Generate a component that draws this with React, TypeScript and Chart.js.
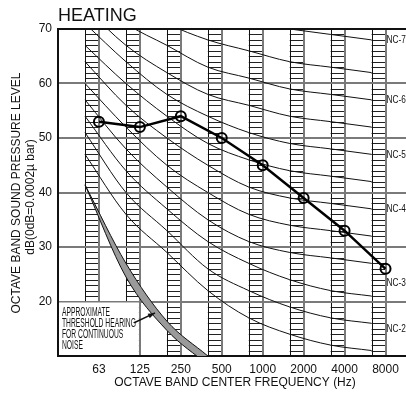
import React, { useEffect, useRef } from 'react';
import { Chart, registerables } from 'chart.js';

Chart.register(...registerables);

// ---------- data ----------
const FREQUENCIES = ['63', '125', '250', '500', '1000', '2000', '4000', '8000'];
const HEATING = [53, 52, 54, 50, 45, 39, 33, 26];

const NC_15 = [47, 36, 29, 22, 17, 14, 12, 11];
const NC_20 = [51, 40, 33, 26, 22, 19, 17, 16];
const NC_25 = [54, 44, 37, 31, 27, 24, 22, 21];
const NC_30 = [57, 48, 41, 35, 31, 29, 28, 27];
const NC_35 = [60, 52, 45, 40, 36, 34, 33, 32];
const NC_40 = [64, 56, 50, 45, 41, 39, 38, 37];
const NC_45 = [67, 60, 54, 49, 46, 44, 43, 42];
const NC_50 = [71, 64, 58, 54, 51, 49, 48, 47];
const NC_55 = [74, 67, 62, 58, 56, 54, 53, 52];
const NC_60 = [77, 71, 67, 63, 61, 59, 58, 57];
const NC_65 = [80, 75, 71, 68, 66, 64, 63, 62];
const NC_70 = [83, 79, 75, 72, 71, 70, 69, 68];
const NC_CURVES = [NC_15, NC_20, NC_25, NC_30, NC_35, NC_40, NC_45, NC_50, NC_55, NC_60, NC_65, NC_70];

const NC_LABELS = ['NC-70', 'NC-60', 'NC-50', 'NC-40', 'NC-30', 'NC-20'];
const NC_LABEL_DB = [68, 57, 47, 37, 23.5, 15];

const THRESHOLD_UPPER = [41.4, 27, 16.4, 10];
const THRESHOLD_LOWER = [41.4, 24.5, 14.7, 8.4];

const Y_TICKS = [10, 20, 30, 40, 50, 60, 70];
const NOTE_LINES = ['APPROXIMATE', 'THRESHOLD HEARING', 'FOR CONTINUOUS', 'NOISE'];

const TITLE = 'HEATING';
const Y_TITLE_1 = 'OCTAVE BAND SOUND PRESSURE LEVEL';
const Y_TITLE_2 = 'dB(0dB=0.0002\u00b5 bar)';
const X_TITLE = 'OCTAVE BAND CENTER FREQUENCY (Hz)';

// ---------- styling ----------
const FONT = '"Liberation Sans", Arial, Helvetica, sans-serif';
const BAR_WIDTH = 0.34; // width of the hatched band strips, in category units
const CURVE_SHIFT = -0.34; // NC curves drawn at the left edge of each band strip

const decor = {
  id: 'decor',
  beforeDraw(chart: any) {
    const { ctx, chartArea: a, scales } = chart;
    const x = scales.x;
    const y = scales.y;
    ctx.save();
    ctx.fillStyle = '#fff';
    ctx.fillRect(0, 0, chart.width, chart.height);
    FREQUENCIES.forEach((_, i) => {
      const xr = x.getPixelForValue(i);
      const xl = x.getPixelForValue(i - BAR_WIDTH);
      ctx.strokeStyle = '#222';
      ctx.lineWidth = 1;
      for (let v = 11; v < 70; v++) {
        const py = Math.round(y.getPixelForValue(v)) + 0.5;
        ctx.beginPath();
        ctx.moveTo(xl, py);
        ctx.lineTo(xr, py);
        ctx.stroke();
      }
      const lx = Math.round(xl) + 0.5;
      ctx.strokeStyle = '#111';
      ctx.beginPath();
      ctx.moveTo(lx, a.top);
      ctx.lineTo(lx, a.bottom);
      ctx.stroke();
    });
    ctx.restore();
  },
  afterDatasetsDraw(chart: any) {
    const { ctx, chartArea: a, scales } = chart;
    const x = scales.x;
    const y = scales.y;
    ctx.save();
    // white box holding the threshold note
    const bx = a.left + 1;
    const by = y.getPixelForValue(20) + 1;
    ctx.fillStyle = '#fff';
    ctx.fillRect(bx, by, x.getPixelForValue(1) - 1 - bx, a.bottom - 1 - by);
    ctx.restore();
  },
  afterDraw(chart: any) {
    const { ctx, scales } = chart;
    const x = scales.x;
    const y = scales.y;
    ctx.save();
    ctx.fillStyle = '#111';

    // title
    ctx.font = `18px ${FONT}`;
    ctx.textAlign = 'left';
    ctx.textBaseline = 'alphabetic';
    ctx.fillText(TITLE, 58, 21);

    // y title
    ctx.font = `12px ${FONT}`;
    ctx.textAlign = 'center';
    ctx.textBaseline = 'middle';
    ctx.save();
    ctx.translate(17, 193);
    ctx.rotate(-Math.PI / 2);
    ctx.fillText(Y_TITLE_1, 0, 0);
    ctx.restore();
    ctx.save();
    ctx.translate(31, 197);
    ctx.rotate(-Math.PI / 2);
    ctx.fillText(Y_TITLE_2, 0, 0);
    ctx.restore();

    // x title
    ctx.fillText(X_TITLE, 235, 383);

    // NC labels (condensed)
    ctx.font = `11.5px ${FONT}`;
    ctx.textAlign = 'left';
    NC_LABELS.forEach((lab, i) => {
      ctx.save();
      ctx.translate(x.getPixelForValue(FREQUENCIES.length - 1) + 1, y.getPixelForValue(NC_LABEL_DB[i]));
      ctx.scale(0.72, 1);
      ctx.fillText(lab, 0, 0);
      ctx.restore();
    });

    // threshold note
    ctx.font = `12px ${FONT}`;
    const noteY = [313, 324, 335, 346];
    NOTE_LINES.forEach((line, i) => {
      ctx.save();
      ctx.translate(62, noteY[i]);
      ctx.scale(0.56, 1);
      ctx.fillText(line, 0, 0);
      ctx.restore();
    });

    // arrow to threshold band
    const tx = x.getPixelForValue(1.37);
    const ty = y.getPixelForValue(17.9);
    const sx = x.getPixelForValue(0.86);
    const sy = y.getPixelForValue(16.1);
    ctx.strokeStyle = '#111';
    ctx.lineWidth = 1.5;
    ctx.beginPath();
    ctx.moveTo(sx, sy);
    ctx.lineTo(tx, ty);
    ctx.stroke();
    const ang = Math.atan2(ty - sy, tx - sx);
    ctx.beginPath();
    ctx.moveTo(tx, ty);
    ctx.lineTo(tx - 7 * Math.cos(ang) + 2.5 * Math.sin(ang), ty - 7 * Math.sin(ang) - 2.5 * Math.cos(ang));
    ctx.lineTo(tx - 7 * Math.cos(ang) - 2.5 * Math.sin(ang), ty - 7 * Math.sin(ang) + 2.5 * Math.cos(ang));
    ctx.closePath();
    ctx.fill();
    ctx.restore();
  },
};

export default function App() {
  const ref = useRef<HTMLCanvasElement | null>(null);
  useEffect(() => {
    if (!ref.current) return;
    const ncSets = NC_CURVES.map((vals) => ({
      data: vals.map((v, i) => ({ x: i + CURVE_SHIFT, y: v })),
      borderColor: '#111',
      borderWidth: 1,
      pointRadius: 0,
      cubicInterpolationMode: 'monotone' as const,
      fill: false,
    }));
    const chart = new Chart(ref.current, {
      type: 'line',
      data: {
        datasets: [
          {
            data: HEATING.map((v, i) => ({ x: i, y: v })),
            borderColor: '#000',
            borderWidth: 2.5,
            pointRadius: 5,
            pointBorderWidth: 2,
            pointBorderColor: '#000',
            pointBackgroundColor: 'rgba(0,0,0,0)',
            tension: 0,
            fill: false,
          },
          {
            data: THRESHOLD_UPPER.map((v, i) => ({ x: i + CURVE_SHIFT, y: v })),
            borderColor: '#111',
            borderWidth: 1,
            pointRadius: 0,
            cubicInterpolationMode: 'monotone' as const,
            fill: false,
          },
          {
            data: THRESHOLD_LOWER.map((v, i) => ({ x: i + CURVE_SHIFT, y: v })),
            borderColor: '#111',
            borderWidth: 1,
            pointRadius: 0,
            cubicInterpolationMode: 'monotone' as const,
            fill: '-1',
            backgroundColor: '#9a9a9a',
          },
          ...ncSets,
        ],
      },
      options: {
        animation: false,
        responsive: false,
        events: [],
        layout: { autoPadding: false, padding: { top: 29, left: 0, right: 0, bottom: 0 } },
        plugins: { legend: { display: false }, tooltip: { enabled: false } },
        scales: {
          x: {
            type: 'linear',
            min: -1,
            max: 7.5,
            afterBuildTicks: (s: any) => {
              s.ticks = FREQUENCIES.map((_, i) => ({ value: i }));
            },
            afterFit: (s: any) => {
              s.height = 37;
              s.paddingLeft = 0;
              s.paddingRight = 0;
            },
            grid: { color: '#7a7a7a', lineWidth: 2, drawTicks: false },
            border: { display: true, color: '#111', width: 2 },
            ticks: {
              color: '#111',
              padding: 6,
              maxRotation: 0,
              font: { family: FONT, size: 12 },
              callback: (v: any) => FREQUENCIES[v] ?? '',
            },
          },
          y: {
            type: 'linear',
            min: 10,
            max: 70,
            afterBuildTicks: (s: any) => {
              s.ticks = Y_TICKS.map((v) => ({ value: v }));
            },
            afterFit: (s: any) => {
              s.width = 58;
              s.paddingTop = 0;
              s.paddingBottom = 0;
            },
            grid: {
              color: (c: any) => (c.tick && c.tick.value === 70 ? '#111' : '#7a7a7a'),
              lineWidth: 2,
              drawTicks: false,
            },
            border: { display: true, color: '#111', width: 2 },
            ticks: {
              color: '#111',
              padding: 6,
              font: { family: FONT, size: 12 },
              callback: (v: any) => (v === 10 ? '' : String(v)),
            },
          },
        },
      },
      plugins: [decor],
    });
    return () => chart.destroy();
  }, []);
  return (
    <div style={{ position: 'absolute', left: 0, top: 0, width: 406, height: 393, background: '#fff' }}>
      <canvas ref={ref} width={406} height={393} style={{ width: 406, height: 393, display: 'block' }} />
    </div>
  );
}
